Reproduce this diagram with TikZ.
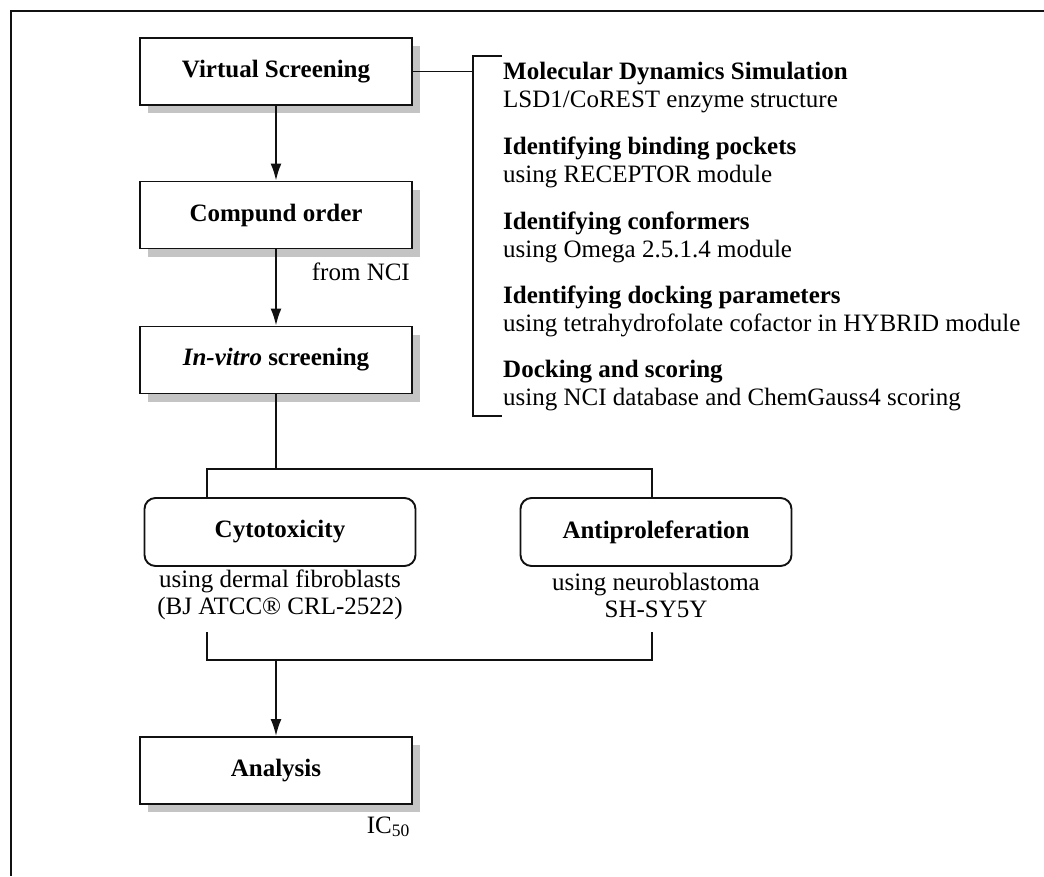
\documentclass[tikz,border=0pt]{standalone}
\usepackage{fontspec}
\setmainfont{Liberation Serif}
\usepackage{xcolor}
\usetikzlibrary{arrows.meta,shadows}
\definecolor{ShadowGrey}{HTML}{C4C4C4}
\definecolor{Ink}{HTML}{111111}

\begin{document}
\begin{tikzpicture}[x=1pt,y=-1pt, >={Latex[length=17pt,width=11pt]}]
      \tikzstyle{stage}=[draw=Ink, fill=white, line width=1.9pt, inner sep=0pt,
        minimum width=272pt, minimum height=67pt, align=center,
        general shadow={fill=ShadowGrey, shadow xshift=8pt, shadow yshift=-8pt},
        font=\fontsize{25}{28}\selectfont\bfseries]
      \tikzstyle{assay}=[draw=Ink, fill=white, line width=1.9pt, rounded corners=11pt,
        inner sep=0pt, minimum width=271pt, minimum height=68pt, align=center,
        font=\fontsize{25}{28}\selectfont\bfseries]
      \tikzstyle{note}=[inner sep=0pt, align=center, font=\fontsize{25}{27}\selectfont]
      \tikzstyle{vsitem}=[inner sep=0pt, anchor=west, align=left, font=\fontsize{25}{28}\selectfont]
      \tikzstyle{link}=[line width=1.9pt, color=Ink]
      \useasboundingbox (0,0) rectangle (1044,876);
      % frame
      \draw[line width=2.4pt, color=Ink] (1044,11) -- (11,11) -- (11,876);
      % main column
      \node[stage] (vs) at (276,71.5) {Virtual Screening};
      \node[stage] (co) at (276,215) {Compund order};
      \node[stage] (iv) at (276,360) {\textit{In-vitro} screening};
      \node[assay] (cy) at (280,532) {Cytotoxicity};
      \node[assay] (ap) at (656,532) {Antiproleferation};
      \node[stage] (an) at (276,770.5) {Analysis};
      \node[note, anchor=base east] (nci) at (410,280) {from NCI};
      \node[note] (cyn) at (280,595) {using dermal fibroblasts\\(BJ ATCC® CRL-2522)};
      \node[note] (apn) at (656,595) {using neuroblastoma\\SH-SY5Y};
      \node[note, anchor=base east] (ic) at (410,833) {IC\textsubscript{50}};
      % virtual screening steps
      \node[vsitem] (s1) at (503,88) {\textbf{Molecular Dynamics Simulation}\\LSD1/CoREST enzyme structure};
      \node[vsitem] (s2) at (503,162.5) {\textbf{Identifying binding pockets}\\using RECEPTOR module};
      \node[vsitem] (s3) at (503,237) {\textbf{Identifying conformers}\\using Omega 2.5.1.4 module};
      \node[vsitem] (s4) at (503,311.5) {\textbf{Identifying docking parameters}\\using tetrahydrofolate cofactor in HYBRID module};
      \node[vsitem] (s5) at (503,386) {\textbf{Docking and scoring}\\using NCI database and ChemGauss4 scoring};
      \coordinate (bt) at (473,56);
      \coordinate (bb) at (473,416);
      \coordinate (jl) at (207,469);
      \coordinate (jr) at (652,469);
      \coordinate (kl) at (207,632);
      \coordinate (kr) at (652,632);
      \coordinate (ml) at (207,660);
      \coordinate (mr) at (652,660);
      % connectors
      \draw[link] (502,56) -- (bt) -- (bb) -- (502,416);
      \draw[link] (vs.east) -- (vs.east -| bt);
      \draw[link, ->] (vs) -- (co);
      \draw[link, ->] (co) -- (iv);
      \draw[link] (iv.south) -- (iv.south |- jl);
      \draw[link] (jl |- cy.north) -- (jl) -- (jr) -- (jr |- ap.north);
      \draw[link] (kl) -- (ml) -- (mr) -- (kr);
      \draw[link, ->] (an.north |- ml) -- (an);
    \end{tikzpicture}
\end{document}
